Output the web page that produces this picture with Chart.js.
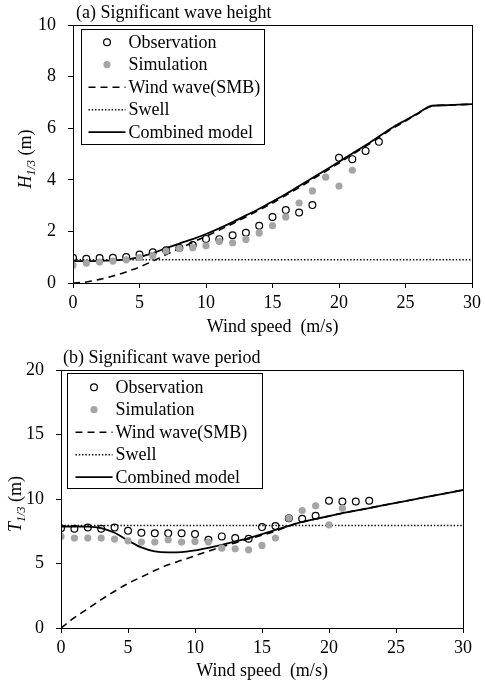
<!DOCTYPE html>
<html><head><meta charset="utf-8">
<script src="https://cdn.jsdelivr.net/npm/chart.js@4"></script>
<style>
html,body{margin:0;padding:0;background:#fff;}
#wrap{position:relative;width:485px;height:684px;overflow:hidden;}
canvas{position:absolute;left:0;}
</style></head><body>
<div id="wrap">
<canvas id="cH" width="485" height="340" style="top:0"></canvas>
<canvas id="cT" width="485" height="344" style="top:340px"></canvas>
</div>
<script>
// ---------- data ----------
const seriesLabels = ['Observation', 'Simulation', 'Wind wave(SMB)', 'Swell', 'Combined model'];
const xTicks = [0, 5, 10, 15, 20, 25, 30];
const hTicks = [0, 2, 4, 6, 8, 10];
const tTicks = [0, 5, 10, 15, 20];

const lineSpeed = [0,1,2,3,4,5,6,7,8,9,10,11,12,13,14,15,16,17,18,19,20,21,22,23,24,25,26,27,28,29,30];
const obsSpeed  = [0,1,2,3,4,5,6,7,8,9,10,11,12,13,14,15,16,17,18,19,20,21,22,23];
const simSpeed  = [0,1,2,3,4,5,6,7,8,9,10,11,12,13,14,15,16,17,18,19,20,21];
const swellSpeed = [0, 30];

// (a) significant wave height H1/3 (m)
const hObs = [0.98,0.94,0.97,0.98,1.01,1.10,1.19,1.27,1.36,1.47,1.71,1.70,1.85,1.95,2.22,2.56,2.83,2.73,3.02,null,4.85,4.80,5.12,5.47];
const hSim = [0.69,0.77,0.81,0.85,0.90,0.98,1.06,1.24,1.33,1.37,1.44,1.61,1.56,1.69,1.94,2.22,2.56,3.10,3.57,4.10,3.76,4.37];
const hWind = [0,0.04,0.14,0.27,0.43,0.62,0.85,1.10,1.33,1.58,1.81,2.05,2.30,2.56,2.83,3.10,3.40,3.70,4.02,4.33,4.65,4.98,5.30,5.64,5.98,6.28,6.58,6.86,6.89,6.91,6.93];
const hSwell = [0.90, 0.90];
const hComb = [0.85,0.85,0.86,0.88,0.91,1.00,1.16,1.35,1.53,1.70,1.90,2.12,2.36,2.62,2.88,3.16,3.45,3.76,4.07,4.38,4.70,5.02,5.34,5.68,6.02,6.31,6.60,6.87,6.89,6.91,6.93];

// (b) significant wave period T1/3
const tObs = [7.74,7.69,7.79,7.69,7.79,7.54,7.38,7.35,7.35,7.35,7.28,6.84,7.10,6.97,6.92,7.82,7.90,8.50,8.46,8.70,9.86,9.81,9.81,9.87];
const tSim = [7.10,6.97,6.97,6.97,6.89,6.76,6.66,6.66,6.84,6.66,6.71,6.66,6.19,6.14,6.06,6.40,6.97,8.52,9.11,9.47,8.00,9.29];
const tWind = [0,0.80,1.50,2.20,2.85,3.45,3.95,4.45,4.90,5.25,5.60,5.95,6.30,6.60,6.90,7.20,7.50,7.90,8.22,8.45,8.68,8.90,9.10,9.30,9.50,9.70,9.90,10.10,10.30,10.50,10.70];
const tSwell = [7.95, 7.95];
const tComb = [7.87,7.87,7.86,7.74,7.38,6.78,6.25,5.94,5.86,5.88,6.02,6.22,6.45,6.71,6.97,7.28,7.60,7.92,8.22,8.45,8.68,8.90,9.10,9.30,9.50,9.70,9.90,10.10,10.30,10.50,10.70];

// ---------- helpers ----------
const FAM = '"Liberation Serif", "Times New Roman", serif';
const font18 = { family: FAM, size: 18, lineHeight: 1.2 };
const pts = (xs, ys) => xs.map((x, i) => ({ x: x, y: ys[i] })).filter(p => p.y !== null && p.y !== undefined);
const SIM_GREY = '#a5a5a5';

function makeDatasets(obs, sim, wind, swell, comb) {
  return [
    { label: seriesLabels[0], data: pts(obsSpeed, obs), showLine: false, pointStyle: 'circle',
      pointRadius: 3.4, pointBorderWidth: 1.2, pointBorderColor: '#000', pointBackgroundColor: 'rgba(255,255,255,0)', order: 1 },
    { label: seriesLabels[1], data: pts(simSpeed, sim), showLine: false, pointStyle: 'circle',
      pointRadius: 3.6, pointBorderWidth: 0, pointBorderColor: SIM_GREY, pointBackgroundColor: SIM_GREY, order: 0 },
    { label: seriesLabels[2], data: pts(lineSpeed, wind), showLine: true, pointRadius: 0, borderColor: '#000',
      borderWidth: 1.6, borderDash: [7, 5], cubicInterpolationMode: 'monotone', order: 4 },
    { label: seriesLabels[3], data: pts(swellSpeed, swell), showLine: true, pointRadius: 0, borderColor: '#000',
      borderWidth: 1.4, borderDash: [1.4, 1.9], order: 3 },
    { label: seriesLabels[4], data: pts(lineSpeed, comb), showLine: true, pointRadius: 0, borderColor: '#000',
      borderWidth: 1.8, cubicInterpolationMode: 'monotone', order: 2 }
  ];
}

const framePlugin = {
  id: 'frame',
  afterDraw(chart, args, o) {
    const ctx = chart.ctx, ca = chart.chartArea;
    ctx.save();
    // box
    ctx.strokeStyle = '#000'; ctx.lineWidth = 1; ctx.setLineDash([]);
    ctx.strokeRect(Math.round(ca.left) + 0.5, Math.round(ca.top) + 0.5, Math.round(ca.right - ca.left), Math.round(ca.bottom - ca.top));
    // panel title
    ctx.fillStyle = '#000';
    ctx.font = '18px ' + FAM;
    ctx.textAlign = 'left'; ctx.textBaseline = 'alphabetic';
    ctx.fillText(o.title, ca.left + o.titleDx, ca.top - 7);
    // y axis title (rotated, italic symbol with subscript)
    ctx.save();
    ctx.translate(ca.left - o.yTitleDx, (ca.top + ca.bottom) / 2 + 5);
    ctx.rotate(-Math.PI / 2);
    const fMain = 'italic 18px ' + FAM, fSub = 'italic 12px ' + FAM, fUnit = '18px ' + FAM;
    ctx.font = fMain; const w1 = ctx.measureText(o.ySym).width;
    ctx.font = fSub; const w2 = ctx.measureText(o.ySub).width;
    ctx.font = fUnit; const w3 = ctx.measureText(o.yUnit).width;
    let x0 = -(w1 + w2 + w3) / 2;
    ctx.font = fMain; ctx.fillText(o.ySym, x0, 0); x0 += w1;
    ctx.font = fSub; ctx.fillText(o.ySub, x0, 4); x0 += w2;
    ctx.font = fUnit; ctx.fillText(o.yUnit, x0, 0);
    ctx.restore();
    // legend
    const L = o.legend;
    const bx = Math.round(ca.left + L.dx) + 0.5, by = Math.round(ca.top + L.dy) + 0.5;
    ctx.fillStyle = '#fff';
    ctx.fillRect(bx, by, L.w, L.h);
    ctx.strokeStyle = '#000'; ctx.lineWidth = 1;
    ctx.strokeRect(bx, by, L.w, L.h);
    ctx.font = '18px ' + FAM; ctx.textBaseline = 'middle';
    chart.data.datasets.forEach((ds, i) => {
      const y = by + L.first + i * L.row;
      if (ds.showLine === false) {
        const cx = bx + (L.l0 + L.l1) / 2;
        ctx.beginPath();
        ctx.setLineDash([]);
        ctx.arc(cx, y, ds.pointRadius, 0, Math.PI * 2);
        if (ds.pointBorderWidth > 0) {
          ctx.lineWidth = ds.pointBorderWidth; ctx.strokeStyle = ds.pointBorderColor; ctx.stroke();
        } else {
          ctx.fillStyle = ds.pointBackgroundColor; ctx.fill();
        }
      } else {
        ctx.beginPath();
        ctx.setLineDash(ds.borderDash || []);
        ctx.lineWidth = ds.borderWidth; ctx.strokeStyle = ds.borderColor;
        ctx.moveTo(bx + L.l0, y); ctx.lineTo(bx + L.l1, y); ctx.stroke();
        ctx.setLineDash([]);
      }
      ctx.fillStyle = '#000';
      ctx.fillText(ds.label, bx + L.tx, y + 1);
    });
    ctx.restore();
  }
};

function axisCommon(ticksArr, min, max, padding) {
  return {
    type: 'linear', min: min, max: max,
    afterBuildTicks: s => { s.ticks = ticksArr.map(v => ({ value: v })); },
    ticks: { font: font18, color: '#000', padding: padding, autoSkip: false, maxRotation: 0 },
    grid: { display: true, drawOnChartArea: false, drawTicks: true, tickLength: 5, color: '#000', lineWidth: 1 },
    border: { display: true, color: '#000', width: 1 }
  };
}

function makeChart(id, cfg) {
  const x = axisCommon(xTicks, 0, 30, 4);
  x.title = { display: true, text: 'Wind speed  (m/s)', font: font18, color: '#000', padding: { top: 0, bottom: 2 } };
  x.afterFit = s => { s.height = cfg.xH; };
  const y = axisCommon(cfg.yTicks, cfg.yMin, cfg.yMax, 12);
  y.afterFit = s => { s.width = cfg.yW; };
  return new Chart(document.getElementById(id), {
    type: 'scatter',
    data: { datasets: cfg.datasets },
    options: {
      responsive: false, animation: false, devicePixelRatio: 1,
      layout: { padding: { left: 0, right: cfg.padR, top: cfg.padT, bottom: 0 } },
      scales: { x: x, y: y },
      plugins: {
        legend: { display: false }, tooltip: { enabled: false },
        frame: cfg.frame
      }
    },
    plugins: [framePlugin]
  });
}

makeChart('cH', {
  datasets: makeDatasets(hObs, hSim, hWind, hSwell, hComb),
  yTicks: hTicks, yMin: 0, yMax: 10, yW: 73, xH: 57, padR: 10, padT: 25,
  frame: { title: '(a) Significant wave height', titleDx: 3, ySym: 'H', ySub: '1/3', yUnit: ' (m)', yTitleDx: 42.5,
           legend: { dx: 8, dy: 4, w: 183, h: 115, first: 12.7, row: 22.5, l0: 7, l1: 44, tx: 47 } }
});

makeChart('cT', {
  datasets: makeDatasets(tObs, tSim, tWind, tSwell, tComb),
  yTicks: tTicks, yMin: 0, yMax: 20, yW: 61, xH: 56, padR: 22, padT: 30,
  frame: { title: '(b) Significant wave period', titleDx: 2, ySym: 'T', ySub: '1/3', yUnit: ' (m)', yTitleDx: 40.5,
           legend: { dx: 6, dy: 3, w: 195, h: 115, first: 13.7, row: 22.5, l0: 8, l1: 45, tx: 48 } }
});
</script>
</body></html>
